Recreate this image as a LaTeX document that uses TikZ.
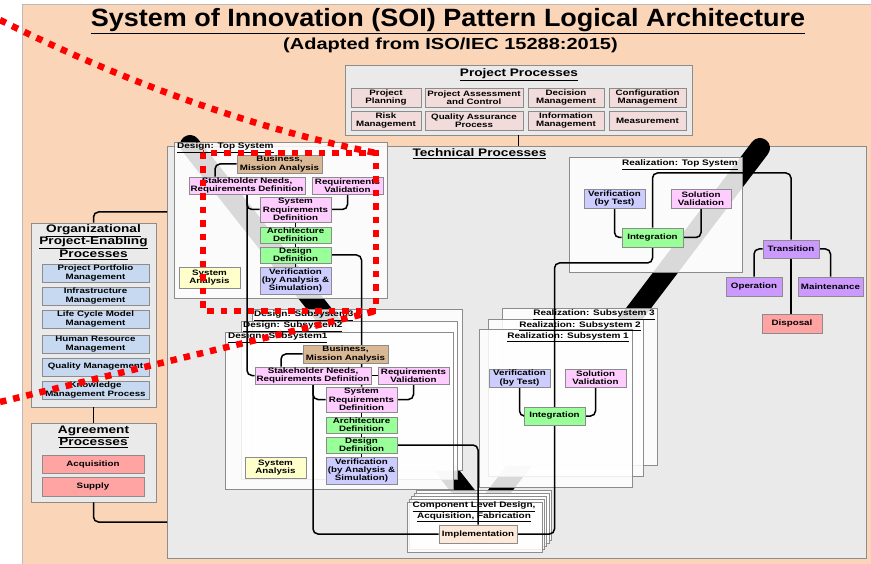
\documentclass[tikz,border=0pt]{standalone}
\usepackage{fontspec}
\setmainfont{Liberation Sans}
\newfontfamily\sxf{Liberation Sans}[FakeStretch=1.25]
\newfontfamily\txf{Liberation Sans}[FakeStretch=1.08]
\usetikzlibrary{calc}
\definecolor{peach}{HTML}{FBD5B8}
\definecolor{panel}{HTML}{EAEAEA}
\definecolor{edge}{HTML}{8C8C8C}
\definecolor{pinkpp}{HTML}{F2DCDB}
\definecolor{bluepp}{HTML}{C6D9F1}
\definecolor{redpp}{HTML}{FFA3A3}
\definecolor{tanc}{HTML}{D9B896}
\definecolor{mag}{HTML}{FFCCFF}
\definecolor{grn}{HTML}{99FF99}
\definecolor{lav}{HTML}{CCCCFF}
\definecolor{yel}{HTML}{FFFFCC}
\definecolor{purp}{HTML}{CC99FF}
\definecolor{implc}{HTML}{FDE9D9}
\pgfdeclarelayer{l0}\pgfdeclarelayer{l1}\pgfdeclarelayer{l2}\pgfdeclarelayer{l3}\pgfdeclarelayer{topl}
\pgfsetlayers{l0,l1,l2,l3,main,topl}
\tikzset{
  bx/.style={draw=edge, line width=0.8pt, inner sep=0pt, align=center, font=\sxf\bfseries\fontsize{7.8}{8.3}\selectfont},
  panelbox/.style={draw=edge, line width=0.8pt, fill=panel, inner sep=0pt},
  cont/.style={draw=edge, line width=0.8pt, fill=white, fill opacity=0.85},
  head/.style={font=\sxf\bfseries\fontsize{10.9}{12.5}\selectfont, align=center, inner sep=0pt},
  ctitle/.style={font=\sxf\bfseries\fontsize{8}{8.3}\selectfont, inner sep=0pt},
  conn/.style={draw=black, line width=1.5pt, rounded corners=5pt},
  reddot/.style={draw=red, line width=6.5pt, dash pattern=on 6.5pt off 7pt},
  vband/.style={draw=black, line width=20pt, line cap=round},
}
\newcommand\mybox[7]{\node[bx, fill=#2, minimum width=#5pt, minimum height=#6pt] (#1) at (#3,#4) {#7};}
\newcommand\dcontent[1]{%
  \mybox{#1bus}{tanc}{279.5}{164}{85}{18}{Business,\\Mission Analysis}
  \mybox{#1sh}{mag}{247}{185.5}{116}{17}{Stakeholder Needs,\\Requirements Definition}
  \mybox{#1rv}{mag}{347.5}{185.5}{71}{17}{Requirements\\Validation}
  \mybox{#1srd}{mag}{295.5}{209.5}{71}{25}{System\\Requirements\\Definition}
  \mybox{#1arch}{grn}{295.5}{235}{71}{16}{Architecture\\Definition}
  \mybox{#1des}{grn}{295.5}{255}{71}{16}{Design\\Definition}
  \mybox{#1ver}{lav}{295.5}{280.5}{71}{27}{Verification\\(by Analysis \&\\Simulation)}
  \mybox{#1sa}{yel}{209.5}{277.5}{61}{21}{System\\Analysis}
  \begin{pgfonlayer}{l3}
    \draw[conn] (#1bus.west) -| ([xshift=-32pt]#1sh.north);
    \draw[conn] (#1sh.south) |- (#1srd.west);
    \draw[conn] (#1rv.south) |- (#1srd.east);
    \draw[conn] (#1srd.south) -- (#1ver.north);
  \end{pgfonlayer}
}
\begin{document}
\begin{tikzpicture}[x=1pt,y=-1pt]
\useasboundingbox (0,0) rectangle (871,564);
\begin{pgfonlayer}{l0}
  \fill[white] (0,0) rectangle (871,564);
  \draw[fill=peach, draw=edge!60, line width=0.6pt] (22,4) rectangle (873,566);
  \node[panelbox, minimum width=347pt, minimum height=70pt] (proj) at (518.5,100) {};
  \node[panelbox, minimum width=699pt, minimum height=412pt] (tech) at (516.5,352) {};
  \node[panelbox, minimum width=125pt, minimum height=184pt] (org) at (93.5,315) {};
  \node[panelbox, minimum width=125pt, minimum height=79pt] (agr) at (93.5,462.5) {};
\end{pgfonlayer}
\begin{pgfonlayer}{l1}
  \draw[vband] (190,145) -- (470,500);
  \draw[vband] (760,148) -- (493,500);
\end{pgfonlayer}
\begin{pgfonlayer}{l2}
  \draw[cont] (174,142) rectangle (387,298);
  \draw[cont] (252,309) rectangle (462,470);
  \draw[cont] (241,321) rectangle (457,479);
  \draw[cont] (225,332) rectangle (453,489);
  \draw[cont] (569,157) rectangle (742,272);
  \draw[cont] (502,308) rectangle (657,465);
  \draw[cont] (488,319) rectangle (643,476);
  \draw[cont] (479,329) rectangle (632,487);
  \foreach \i in {4,3,2,1,0} \draw[cont] (407+2.3*\i, 502-3*\i) rectangle (542+2.3*\i, 552-3*\i);
\end{pgfonlayer}
% titles
\node[font=\txf\bfseries\fontsize{25}{25}\selectfont, anchor=base, inner sep=0pt] (title) at (448,27) {\underline{System of Innovation (SOI) Pattern Logical Architecture}};
\node[font=\sxf\bfseries\fontsize{16}{16}\selectfont, anchor=base, inner sep=0pt] (subtitle) at (450.5,50) {(Adapted from ISO/IEC 15288:2015)};
\node[head, anchor=base] (projt) at (519,77) {\underline{Project Processes}};
\node[head, anchor=base] (techt) at (479.5,157) {\underline{Technical Processes}};
\node[head] (orgt) at (93.5,242) {\underline{Organizational}\\\underline{Project-Enabling}\\\underline{Processes}};
\node[head] (agrt) at (93.5,437) {\underline{Agreement}\\\underline{Processes}};
% project processes
\mybox{pp1}{pinkpp}{386}{97.5}{70}{19}{Project\\Planning}
\mybox{pp2}{pinkpp}{474}{97.5}{98}{19}{Project Assessment\\and Control}
\mybox{pp3}{pinkpp}{566}{97.5}{76}{19}{Decision\\Management}
\mybox{pp4}{pinkpp}{647.5}{97.5}{77}{19}{Configuration\\Management}
\mybox{pp5}{pinkpp}{386}{120.5}{70}{19}{Risk\\Management}
\mybox{pp6}{pinkpp}{474}{120.5}{98}{19}{Quality Assurance\\Process}
\mybox{pp7}{pinkpp}{566}{120.5}{76}{19}{Information\\Management}
\mybox{pp8}{pinkpp}{647.5}{120.5}{77}{19}{Measurement}
% organizational
\mybox{o1}{bluepp}{95.5}{273}{107}{18}{Project Portfolio\\Management}
\mybox{o2}{bluepp}{95.5}{296}{107}{18}{Infrastructure\\Management}
\mybox{o3}{bluepp}{95.5}{319}{107}{18}{Life Cycle Model\\Management}
\mybox{o4}{bluepp}{95.5}{344}{107}{18}{Human Resource\\Management}
\mybox{o5}{bluepp}{95.5}{367}{107}{18}{Quality Management}
\mybox{o6}{bluepp}{95.5}{390}{107}{18}{Knowledge\\Management Process}
% agreement
\mybox{acq}{redpp}{93}{464}{102}{18}{Acquisition}
\mybox{sup}{redpp}{93}{486.5}{102}{19}{Supply}
% design
\dcontent{t}
\begin{scope}[shift={(66,190)}]
\dcontent{s}
\end{scope}
% container titles
\node[ctitle, anchor=base west] (dtt) at (177,149) {\underline{Design: Top System}};
\node[ctitle, anchor=base west] (ds3) at (254,317) {\underline{Design: Subsystem3}};
\node[ctitle, anchor=base west] (ds2) at (243,328) {\underline{Design: Subsystem2}};
\node[ctitle, anchor=base west] (ds1) at (228,339) {\underline{Design: Subsystem1}};
\node[ctitle, anchor=base east] (rtt) at (738,166) {\underline{Realization: Top System}};
\node[ctitle, anchor=base east] (rs3) at (655,316) {\underline{Realization: Subsystem 3}};
\node[ctitle, anchor=base east] (rs2) at (641,327) {\underline{Realization: Subsystem 2}};
\node[ctitle, anchor=base east] (rs1) at (629,338) {\underline{Realization: Subsystem 1}};
\node[ctitle, align=center] (clt) at (474,512) {\underline{Component Level Design,}\\\underline{Acquisition, Fabrication}};
% realization
\mybox{rtver}{lav}{614.5}{198.5}{61}{19}{Verification\\(by Test)}
\mybox{rtsv}{mag}{701}{198.5}{60}{19}{Solution\\Validation}
\mybox{rtint}{grn}{652.5}{237.5}{61}{19}{Integration}
\mybox{r1ver}{lav}{519.5}{378}{61}{18}{Verification\\(by Test)}
\mybox{r1sv}{mag}{595.5}{378}{61}{18}{Solution\\Validation}
\mybox{r1int}{grn}{554.5}{416}{61}{18}{Integration}
\mybox{trans}{purp}{791}{249}{56}{18}{Transition}
\mybox{oper}{purp}{754}{286.5}{56}{19}{Operation}
\mybox{maint}{purp}{830.5}{286.5}{65}{19}{Maintenance}
\mybox{disp}{redpp}{792}{323.5}{60}{19}{Disposal}
\mybox{impl}{implc}{478}{534}{78}{18}{Implementation}
% connectors
\coordinate (orgin) at (167,212);
\coordinate (agrin) at (167,522);
\coordinate (wp1) at (554.5,263);
\coordinate (wp2) at (791,173);
\begin{pgfonlayer}{l3}
  \draw[conn] (proj.south) -- (proj.south |- tech.north);
  \draw[conn] (org.north) |- (orgin);
  \draw[conn] (agr.south) |- (agrin);
  \draw[conn] (org.south) -- (agr.north);
  \draw[conn] (tsh.south) |- (ssh.west);
  \draw[conn] (tdes.east) -| (ssrd.north);
  \draw[conn] (ssh.south) |- (impl.west);
  \draw[conn] (ssh.east) -- (srv.west);
  \draw[conn] (sdes.east) -| (impl.north);
  \draw[conn] (impl.east) -| (wp1) -| (rtint.south);
  \draw[conn] (rtint.north) |- (wp2) -- (trans.north);
  \draw[conn] (rtver.south) |- (rtint.west);
  \draw[conn] (rtsv.south) |- (rtint.east);
  \draw[conn] (r1ver.south) |- (r1int.west);
  \draw[conn] (r1sv.south) |- (r1int.east);
  \draw[conn] (trans.west) -| (oper.north);
  \draw[conn] (trans.east) -| (maint.north);
  \draw[conn] (trans.south) -- (trans.south |- disp.north);
\end{pgfonlayer}
\begin{pgfonlayer}{topl}
  \draw[reddot] (0,20) .. controls (120,80) and (250,128) .. (376,153);
  \draw[reddot] (0,402) -- (376,311);
  \draw[reddot] (203,153) rectangle (376,311);
\end{pgfonlayer}
\end{tikzpicture}
\end{document}
